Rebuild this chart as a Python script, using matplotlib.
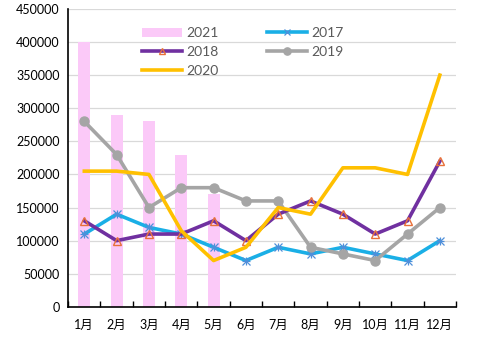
import matplotlib
matplotlib.use("Agg")
import matplotlib.pyplot as plt
import numpy as np

plt.rcParams['font.family'] = ['Lato', 'Noto Sans CJK SC', 'DejaVu Sans']

months = ["1月", "2月", "3月", "4月", "5月", "6月", "7月", "8月", "9月", "10月", "11月", "12月"]
v2021 = [400000, 290000, 280000, 230000, 170000]
v2017 = [110000, 140000, 120000, 110000, 90000, 70000, 90000, 80000, 90000, 80000, 70000, 100000]
v2018 = [130000, 100000, 110000, 110000, 130000, 100000, 140000, 160000, 140000, 110000, 130000, 220000]
v2019 = [280000, 230000, 150000, 180000, 180000, 160000, 160000, 90000, 80000, 70000, 110000, 150000]
v2020 = [205000, 205000, 200000, 115000, 70000, 90000, 150000, 140000, 210000, 210000, 200000, 350000]
yticks = [0, 50000, 100000, 150000, 200000, 250000, 300000, 350000, 400000, 450000]

fig = plt.figure(figsize=(4.8, 3.41), dpi=100)
ax = fig.add_axes([0.142, 0.1, 0.808, 0.874])

x = np.arange(len(months))
h21 = ax.bar(x[:len(v2021)], v2021, width=0.37, color='#FBC9F8', zorder=2, label='2021')
h17, = ax.plot(x, v2017, color='#1AAFE6', lw=2.6, marker='x', ms=5.5, mec='#4F8FDA', mew=0.9, zorder=3, label='2017')
ax.plot(x, v2017, ls='none', marker='+', ms=5.5, mec='#4F8FDA', mew=0.9, zorder=3)
h18, = ax.plot(x, v2018, color='#7030A0', lw=2.6, marker='^', ms=6, mfc='none', mec='#E8703A', mew=1.0, zorder=4, label='2018')
h19, = ax.plot(x, v2019, color='#A5A5A5', lw=2.6, marker='o', ms=6.5, mfc='#A5A5A5', mec='#A5A5A5', zorder=3, label='2019')
h20, = ax.plot(x, v2020, color='#FFC000', lw=2.6, zorder=5, label='2020')

ax.set_xlim(-0.5, 11.5)
ax.set_ylim(0, 450000)
ax.set_yticks(yticks)
ax.set_yticklabels([str(v) for v in yticks], fontsize=9, color='#000000')
ax.set_xticks(x)
ax.set_xticklabels(months, fontsize=9)
ax.set_xticks(np.arange(-0.5, 12, 1), minor=True)
ax.tick_params(axis='x', which='major', length=0, pad=9)
ax.tick_params(axis='x', which='minor', length=4, direction='in', width=1)
ax.tick_params(axis='y', length=0, pad=6)
ax.grid(axis='y', color='#D9D9D9', lw=0.9, zorder=0)
ax.set_axisbelow(True)
for s in ['top', 'right']:
    ax.spines[s].set_visible(False)
ax.spines['left'].set_linewidth(1.2)
ax.spines['bottom'].set_linewidth(1.2)

leg = ax.legend([h21, h18, h20, h17, h19], ['2021', '2018', '2020', '2017', '2019'],
                ncol=2, loc='upper left', bbox_to_anchor=(0.157, 0.98), frameon=False,
                fontsize=10, handlelength=2.9, handletextpad=0.3, columnspacing=3.5,
                labelspacing=0.5, labelcolor='#595959', markerscale=0.8)

fig.savefig('out.png', dpi=100)
